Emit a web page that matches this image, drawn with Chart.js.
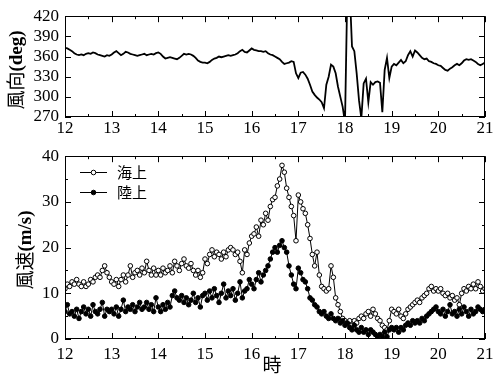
<!DOCTYPE html>
<html><head><meta charset="utf-8">
<script src="https://cdn.jsdelivr.net/npm/chart.js@4.4.1/dist/chart.umd.min.js"></script>
<style>
body{margin:0;background:#fff;width:500px;height:383px;overflow:hidden;position:relative}
canvas{position:absolute;left:0}
</style></head><body>
<canvas id="c1" width="500" height="140" style="top:0;width:500px;height:140px"></canvas>
<canvas id="c2" width="500" height="243" style="top:140px;width:500px;height:243px"></canvas>
<script>
// ---- data (3-minute samples from 12:00 to 21:00) ----
const hourTicks = [12,13,14,15,16,17,18,19,20,21];
const dirTicks = [270,300,330,360,390,420];
const speedTicks = [0,10,20,30,40];
const sampleStartHour = 12;
const sampleStepHours = 0.05;

const windDirection = [
 373,372,370,368,365,363,362,363,362,364,365,364,366,365,363,362,361,360,362,361,
 363,366,368,365,362,364,367,366,364,363,362,361,362,363,364,362,363,364,363,365,
 366,364,360,357,358,359,358,357,356,358,361,364,363,364,363,361,358,354,352,351,
 351,350,352,355,357,358,360,359,360,361,362,361,362,363,365,368,370,367,366,369,
 372,370,369,368,368,367,368,365,363,362,360,358,356,352,349,350,351,353,352,335,
 328,336,337,333,327,318,308,303,299,296,292,283,318,330,348,345,335,315,300,285,
 262,460,460,375,368,335,295,268,320,327,292,322,318,322,323,321,277,340,358,328,
 345,349,347,351,355,350,353,362,368,360,369,366,362,358,356,357,353,352,350,349,
 347,346,343,340,339,342,344,347,349,347,350,354,356,355,356,354,352,349,347,349,351
];

const seaSpeed = [
 11,12,11.5,12.5,12,13,12,11.5,12.5,11.5,12,13,12.5,13.5,14,13.5,15,16,14.5,13.5,
 12.5,12,13,11.5,13,14,12.5,14,16,13.5,14.5,15,14,15.5,14.5,17,15,14,15.5,14,
 15,14,15.5,14.5,15,16,14.5,17,16,15,16.5,17.5,16,15.5,16.5,15,14,15,13.5,14.5,
 17.5,16.5,18.5,19.5,18,19,18.5,17.5,19,18,19.5,20,19.5,18.5,19,17,14.5,19.5,18.5,21,
 22.5,23,24.5,22.5,26,25,27.5,26,29,30.5,31,33.5,35,38,36.5,33,31,29,27,21.5,
 31.5,30,28.5,27.5,25,22,18.5,16,19,14,11.5,11,10.5,11,16,13.5,9,7.5,6,4.5,
 4,3.5,4,3,4,3.5,4.5,5,4.5,5.5,6,5,6.5,5.5,4.5,4,3,2.5,2,4,
 6.5,6,5.5,6.5,5,4.5,5.5,6.5,7,7.5,8,8.5,8,9,9.5,10,11,11.5,10.5,11,
 10.5,11,10,9.5,10,9,9.5,8.5,9,7.5,10,11,10.5,11.5,11,12,11,12.5,11.5,10.5,11
];

const landSpeed = [
 6,7.5,5.5,6,5,6.5,4.5,6,7,5.5,6.5,5,7.5,6,5.5,6.5,8,5,6.5,6,
 6.5,5.5,7,5,6.5,8.5,6,7,6.5,7.5,6,7,8,6.5,7,8,6.5,7.5,6,9,
 7,6,7.5,6.5,8,7,9.5,10.5,9,8.5,9.5,8,9,7.5,8.5,10,8,9,7,9.5,
 10,8.5,10.5,9,11,9.5,8,10,12,9,10.5,9.5,11,8.5,10,12.5,9,10.5,11,13,
 12,11,13,14.5,12.5,14,15,16,17.5,19,20,19,20.5,21.5,20,19,16,14,12,11,
 15.5,14.5,13,12.5,11,9,8.5,7.5,7,6,5.5,6,5,4.5,5.5,4.5,4,4.5,3.5,4,
 3,3.5,2.5,2,3,2,1.5,2.5,1.5,2,1,2,1.5,1,0.5,1,0.5,1.5,0.5,2,
 2.5,2,2.5,1.5,2.5,2,3,3.5,3,4,3.5,4,3.5,4.5,4,5,5.5,6,6.5,7,
 6,5.5,6.5,5,6,7.5,5.5,6,5,6.5,5.5,7,6,5,6.5,5.5,6,7,6.5,6,6.5
];

const seriesNames = ['海上','陸上'];
const dirTitle = ['風向','(deg)'];
const speedTitle = ['風速','(m/s)'];
const xTitle = '時';

// ---- helpers ----
const toXY = arr => arr.map((v,i)=>({x: sampleStartHour + i*sampleStepHours, y: v}));
const SERIF = "'Liberation Serif','DejaVu Serif',serif";
const CJK = "'Noto Sans CJK JP','Noto Sans CJK SC',sans-serif";

function frameTicks(xMinorStep, yMajor, yMinor){
  return {
    id:'frameTicks',
    afterDraw(chart){
      const {ctx, chartArea:a, scales:{x,y}} = chart;
      ctx.save();
      ctx.strokeStyle='#000'; ctx.lineWidth=1;
      ctx.strokeRect(Math.round(a.left)+0.5, Math.round(a.top)+0.5, Math.round(a.right-a.left)-1, Math.round(a.bottom-a.top)-1);
      ctx.beginPath();
      for(let v=x.min; v<=x.max+1e-9; v+=xMinorStep){
        const major = Math.abs(v-Math.round(v))<1e-6;
        const len = major?6:3;
        const px = Math.round(x.getPixelForValue(v))+0.5;
        ctx.moveTo(px,a.bottom); ctx.lineTo(px,a.bottom-len);
        ctx.moveTo(px,a.top); ctx.lineTo(px,a.top+len);
      }
      const step = yMinor || yMajor;
      for(let v=y.min; v<=y.max+1e-9; v+=step){
        const major = Math.abs(((v-y.min)/yMajor)-Math.round((v-y.min)/yMajor))<1e-6;
        const len = major?6:3;
        const py = Math.round(y.getPixelForValue(v))+0.5;
        ctx.moveTo(a.left,py); ctx.lineTo(a.left+len,py);
        ctx.moveTo(a.right,py); ctx.lineTo(a.right-len,py);
      }
      ctx.stroke();
      ctx.restore();
    }
  };
}

function yTitlePlugin(parts, cx, cy){
  return {
    id:'yTitle',
    afterDraw(chart){
      const ctx = chart.ctx;
      ctx.save();
      ctx.translate(cx, cy);
      ctx.rotate(-Math.PI/2);
      ctx.fillStyle='#000';
      ctx.textBaseline='middle';
      const f1 = "400 19px "+CJK, f2 = "700 19px "+SERIF;
      ctx.font=f1; const w1 = ctx.measureText(parts[0]).width;
      ctx.font=f2; const w2 = ctx.measureText(parts[1]).width;
      let sx = -(w1+w2)/2;
      ctx.font=f1; ctx.textAlign='left'; ctx.fillText(parts[0], sx, 0);
      ctx.font=f2; ctx.fillText(parts[1], sx+w1, 1);
      ctx.restore();
    }
  };
}

const legendPlugin = {
  id:'manualLegend',
  afterDraw(chart){
    const ctx = chart.ctx;
    const ds = chart.data.datasets;
    const rows = [{d:ds[0], y:32},{d:ds[1], y:52}];
    ctx.save();
    rows.forEach(r=>{
      ctx.strokeStyle='#000'; ctx.lineWidth=1;
      ctx.beginPath(); ctx.moveTo(80,r.y+0.5); ctx.lineTo(107,r.y+0.5); ctx.stroke();
      ctx.beginPath(); ctx.arc(93.5,r.y+0.5,2.3,0,Math.PI*2);
      ctx.fillStyle=r.d.pointBackgroundColor; ctx.fill(); ctx.stroke();
      ctx.fillStyle='#000'; ctx.font="400 15px "+CJK; ctx.textBaseline='middle'; ctx.textAlign='left';
      ctx.fillText(r.d.label, 117, r.y);
    });
    ctx.restore();
  }
};

const xTitlePlugin = {
  id:'xTitle',
  afterDraw(chart){
    const ctx = chart.ctx;
    ctx.save();
    ctx.fillStyle='#000'; ctx.font="400 19px "+CJK; ctx.textAlign='center'; ctx.textBaseline='middle';
    ctx.fillText(xTitle, 272, 225);
    ctx.restore();
  }
};

const tickFont = {family:SERIF, size:17};

function xScale(height, padding){
  return {
    type:'linear', min:12, max:21,
    afterBuildTicks(s){ s.ticks = hourTicks.map(v=>({value:v})); },
    grid:{display:false, drawTicks:false}, border:{display:false},
    ticks:{padding, font:tickFont, color:'#000', maxRotation:0, autoSkip:false, callback:v=>String(v)},
    afterFit(s){ s.height = height; }
  };
}
function yScale(min,max,ticksArr){
  return {
    min, max,
    afterBuildTicks(s){ s.ticks = ticksArr.map(v=>({value:v})); },
    grid:{display:false, drawTicks:false}, border:{display:false},
    ticks:{padding:6, font:tickFont, color:'#000', autoSkip:false, callback:v=>String(v)},
    afterFit(s){ s.width = 65; }
  };
}

// ---- top: wind direction ----
new Chart(document.getElementById('c1'), {
  type:'line',
  data:{datasets:[{data:toXY(windDirection), borderColor:'#000', borderWidth:1.8, pointRadius:0, tension:0}]},
  options:{
    responsive:false, animation:false, events:[],
    layout:{padding:{top:13,right:15,left:0,bottom:0}},
    plugins:{legend:{display:false}, tooltip:{enabled:false}},
    scales:{x:xScale(23,1), y:yScale(270,420,dirTicks)}
  },
  plugins:[frameTicks(0.5,30,0), yTitlePlugin(dirTitle,16,70)]
});

// ---- bottom: wind speed ----
new Chart(document.getElementById('c2'), {
  type:'line',
  data:{datasets:[
    {label:seriesNames[0], data:toXY(seaSpeed), borderColor:'#000', borderWidth:1, pointRadius:2.3, pointBorderWidth:1,
     pointBackgroundColor:'#fff', pointBorderColor:'#000', tension:0, order:2},
    {label:seriesNames[1], data:toXY(landSpeed), borderColor:'#000', borderWidth:1, pointRadius:2.3, pointBorderWidth:1,
     pointBackgroundColor:'#000', pointBorderColor:'#000', tension:0, order:1}
  ]},
  options:{
    responsive:false, animation:false, events:[],
    layout:{padding:{top:8,right:15,left:0,bottom:0}},
    plugins:{legend:{display:false}, tooltip:{enabled:false}},
    scales:{x:xScale(44,5), y:yScale(0,40,speedTicks)}
  },
  plugins:[frameTicks(0.5,10,5), yTitlePlugin(speedTitle,25,110), legendPlugin, xTitlePlugin]
});
</script>
</body></html>
